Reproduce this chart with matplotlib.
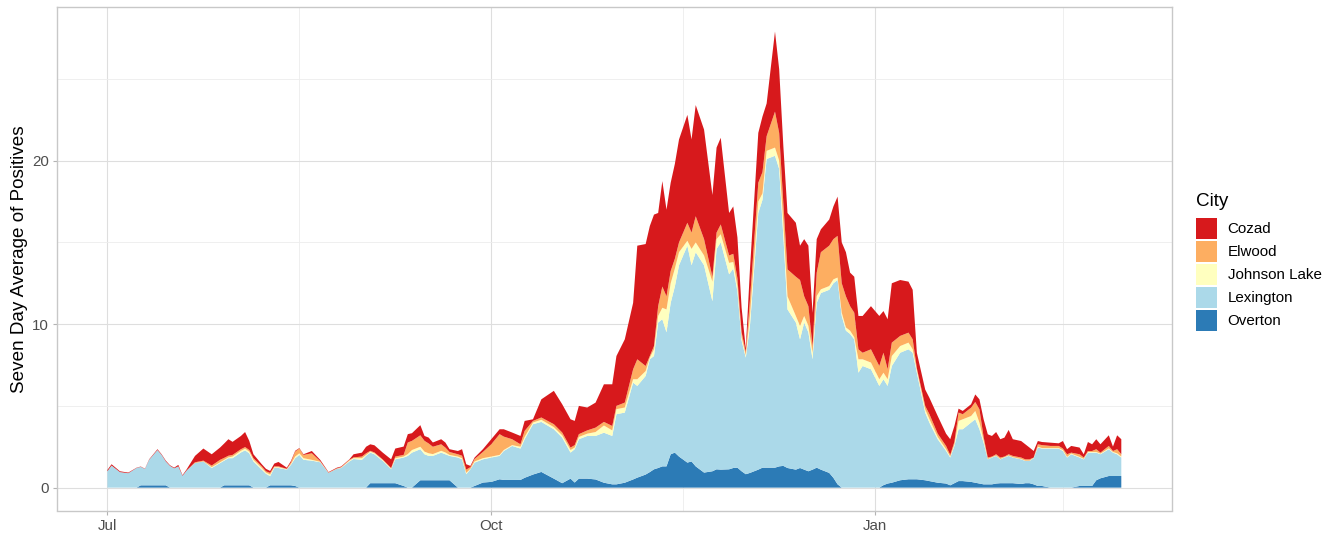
import numpy as np
import pandas as pd
import matplotlib
matplotlib.use("Agg")
import matplotlib.pyplot as plt
import matplotlib.dates as mdates
from matplotlib.patches import Patch

plt.rcParams['font.family'] = ['Liberation Sans', 'DejaVu Sans']

start_date = "2020-07-01"
# day offsets from start_date
day_offsets = [0, 1, 3, 5, 7, 8, 9, 10, 12, 13, 14, 15, 16, 17, 18, 19, 21, 23, 25, 27,
               28, 29, 30, 32, 33, 34, 35, 37, 38, 39, 40, 41, 43, 44, 45, 46, 47, 49, 51, 53,
               55, 56, 58, 59, 61, 62, 63, 64, 66, 68, 69, 71, 72, 73, 75, 76, 77, 78, 80, 81,
               82, 84, 85, 86, 87, 88, 90, 92, 94, 95, 97, 99, 100, 102, 104, 107, 109, 111, 112, 113,
               115, 117, 119, 121, 122, 124, 126, 127, 129, 130, 131, 132, 133, 134, 135, 136, 137, 139, 140, 141,
               143, 145, 146, 147, 149, 150, 151, 152, 153, 154, 156, 157, 158, 160, 161, 162, 163, 165, 166, 167,
               168, 169, 170, 171, 173, 174, 175, 176, 177, 178, 179, 180, 181, 183, 185, 186, 187, 188, 190, 192,
               193, 194, 196, 197, 199, 201, 202, 203, 204, 205, 207, 208, 209, 210, 211, 212, 213, 214, 215, 216,
               217, 219, 220, 221, 222, 223, 224, 226, 228, 229, 230, 231, 233, 234, 235, 236, 237, 238, 240, 241,
               242, 243]

overton = [0, 0, 0, 0, 0, .14, .14, .14, .14, .14, .14, 0, 0, 0, 0, 0, 0, 0, 0, 0,
           .14, .14, .14, .14, .14, .14, 0, 0, 0, .14, .14, .14, .14, .14, .1, 0, 0, 0, 0, 0,
           0, 0, 0, 0, 0, 0, .27, .27, .27, .27, .27, .1, 0, 0, .45, .45, .45, .45, .45, .45,
           .45, 0, 0, 0, 0, .1, .31, .35, .51, .47, .47, .47, .6, .8, .96, .55, .27, .55, .31, .55,
           .55, .5, .3, .2, .2, .3, .5, .61, .8, .95, 1.12, 1.2, 1.3, 1.3, 2.04, 2.14, 1.9, 1.53, 1.6, 1.3,
           .92, 1.0, 1.12, 1.1, 1.12, 1.2, 1.22, 1.0, .82, .9, 1.1, 1.22, 1.22, 1.22, 1.3, 1.33, 1.2, 1.1, 1.2, 1.1,
           1.0, 1.1, 1.22, 1.1, .9, .6, .2, 0, 0, 0, 0, 0, 0, 0, 0, .15, .25, .3, .45, .51,
           .51, .51, .45, .4, .3, .25, .14, .27, .4, .4, .35, .3, .25, .2, .2, .2, .25, .27, .27, .27,
           .27, .22, .27, .27, .2, .1, .1, 0, 0, 0, 0, 0, .1, .1, .1, .1, .45, .57, .71, .71,
           .71, .71]

lexington = [1.0, 1.35, .95, .88, 1.2, 1.13, 1.0, 1.56, 2.16, 1.86, 1.46, 1.33, 1.18, 1.3, .72, 1.05, 1.5, 1.6, 1.2, 1.5,
             1.51, 1.66, 1.66, 2.01, 2.14, 1.96, 1.6, 1.1, .85, .56, 1.06, 1.06, .96, 1.26, 1.7, 2.0, 1.7, 1.65, 1.55, .9,
             1.15, 1.2, 1.6, 1.75, 1.7, 1.95, 1.87, 1.77, 1.36, .85, 1.46, 1.74, 1.94, 2.14, 1.9, 1.59, 1.49, 1.49, 1.69, 1.59,
             1.49, 1.84, 1.73, .82, 1.12, 1.43, 1.42, 1.49, 1.43, 1.77, 2.08, 1.92, 2.36, 3.08, 3.06, 3.02, 2.79, 1.59, 2.04, 2.41,
             2.61, 2.66, 3.06, 2.96, 4.29, 4.29, 5.92, 5.61, 6.03, 6.9, 6.93, 8.9, 9.0, 8.2, 9.26, 10.16, 11.7, 13.27, 12.0, 13.1,
             12.68, 10.4, 13.48, 13.9, 11.93, 12.2, 10.78, 8.0, 7.13, 9.0, 15.7, 16.38, 18.88, 19.08, 18.2, 14.07, 9.7, 9.0, 7.87, 9.0,
             8.5, 6.75, 10.08, 10.8, 11.2, 11.9, 12.5, 10.5, 9.6, 9.4, 9.07, 7.03, 7.44, 7.24, 6.22, 6.48, 5.97, 7.14, 7.8, 7.95,
             7.74, 6.52, 4.14, 3.58, 2.66, 2.0, 1.7, 2.28, 3.17, 3.17, 3.63, 3.88, 3.32, 2.55, 1.53, 1.64, 1.69, 1.46, 1.57, 1.67,
             1.57, 1.51, 1.36, 1.36, 1.6, 2.35, 2.29, 2.39, 2.39, 2.24, 1.84, 2.04, 1.74, 1.63, 2.04, 2.04, 1.69, 1.47, 1.64, 1.43,
             1.33, 1.13]

johnson_lake = [0, 0, 0, 0, 0, 0, 0, 0, 0, 0, 0, 0, 0, 0, 0, 0, 0, 0, .05, .05,
                .05, .05, .1, .1, .1, .1, .1, .1, .07, .1, .05, .05, .02, .05, .1, .1, .1, .05, .03, 0,
                0, .02, .05, .05, .1, .05, .06, .06, .05, .03, .07, .06, .11, .16, .15, .16, .16, .11, .11, .11,
                .06, .06, .07, .08, .03, .07, .07, .06, .06, .06, .05, .11, .14, .1, .13, .13, .14, .16, .1, .14,
                .14, .24, .44, .34, .31, .31, .21, .41, .3, .1, .41, .4, .7, 1.4, 1.2, 1.1, .8, .3, 1.0, .6,
                .6, 1.2, .6, .5, .7, .4, .3, .2, .15, .6, .7, .4, .5, .5, .5, .8, .8, .4, .82, .4,
                .4, .4, .42, .23, .23, .24, .15, .2, .2, .2, .13, .82, .41, .41, .41, .4, .41, .61, .41, .41,
                .21, .17, .2, .22, .14, .1, .06, .1, .51, .61, .4, .51, .41, .15, .02, .02, .02, .02, .02, .02,
                .02, .02, .02, .02, .02, .05, .03, .03, .03, .06, .04, .04, .04, .03, .04, .04, .04, .04, .05, .04,
                .06, .06]

elwood = [0, 0, 0, 0, 0, 0, 0, 0, 0, 0, 0, 0, 0, 0, 0, 0, .05, .05, .1, .15,
          .12, .1, .1, .1, .1, .1, .1, .1, .08, .1, .05, .05, .03, .1, .3, .29, .2, .4, .04, .02,
          .03, .03, .05, .05, .1, .1, .05, .05, .04, .05, .1, .1, .71, .56, .7, .66, .6, .45, .4, .3,
          .18, .14, .15, .2, .1, .15, .38, .75, 1.27, .82, .36, .15, .37, .1, .14, .18, .17, .15, .15, .17,
          .2, .27, .22, .27, .2, .3, .61, 1.22, .31, .1, .2, .6, 1.3, .8, .75, .6, .6, 1.1, 1.0, 1.6,
          1.0, .3, .4, .6, .45, .5, .5, .3, .2, 1.0, 1.15, 1.3, .9, 2.2, 1.7, 1.2, 1.65, 2.4, 2.81, 1.2,
          1.2, .4, 1.43, 2.27, 2.47, 2.46, 2.55, 1.8, 1.9, 1.5, 1.5, .61, .4, .81, .81, 1.22, .61, .82, .62, .61,
          .61, .1, .21, .3, .2, .2, .1, .15, .51, .31, .51, .55, .81, .2, .09, .04, .08, .09, .04, .08,
          .08, .09, .08, .08, .02, .15, .18, .13, .13, .09, .16, .06, .16, .08, .06, .06, .17, .06, .15, .06,
          .25, .14]

cozad = [.08, .08, .05, .04, .02, .02, .02, .03, .05, .04, .05, .04, .04, .09, .04, .07, .39, .74, .69, .75,
         .88, 1.01, .8, .81, .92, .56, .24, .13, .15, .12, .17, .27, .07, .08, .05, .03, .04, .14, .08, .03,
         .04, .04, .03, .19, .24, .4, .4, .44, .42, .53, .49, .51, .51, .47, .62, .3, .36, .26, .31, .31,
         .17, .2, .4, .33, .08, .09, .17, .31, .3, .45, .41, .51, .61, .1, 1.11, 2.04, 1.73, 1.73, 1.48, 1.73,
         1.4, 1.53, 2.3, 2.55, 3.05, 3.87, 4.06, 6.95, 7.46, 7.95, 8.04, 5.7, 6.45, 5.3, 5.4, 5.8, 6.3, 6.6, 5.7, 6.8,
         6.7, 5.0, 5.2, 5.3, 2.6, 2.9, 2.5, 1.5, .2, 1.85, 3.05, 3.4, 2.0, 4.9, 3.9, 3.5, 3.45, 3.3, 2.1, 3.5,
         3.7, 2.04, 2.05, 1.4, 1.6, 2.0, 2.4, 2.5, 2.7, 2.05, 2.2, 2.04, 2.25, 2.64, 3.06, 2.55, 3.06, 3.63, 3.42, 3.12,
         3.03, .95, 1.0, 1.0, 1.08, .75, .96, .97, .24, .2, .21, .46, .61, 1.08, 1.42, 1.26, 1.36, 1.12, 1.16, 1.49,
         1.02, 1.01, .92, .72, .4, .2, .19, .2, .16, .46, .31, .41, .41, .2, .55, .41, .61, .51, .65, .27,
         .85, .92]

cities = ["Overton", "Lexington", "Johnson Lake", "Elwood", "Cozad"]
colors = {"Cozad": "#D7191C", "Elwood": "#FDAE61", "Johnson Lake": "#FFFFBF",
          "Lexington": "#ABD9E9", "Overton": "#2C7BB6"}
legend_order = ["Cozad", "Elwood", "Johnson Lake", "Lexington", "Overton"]
x_tick_dates = ["2020-07-01", "2020-10-01", "2021-01-01"]
x_tick_labels = ["Jul", "Oct", "Jan"]
y_ticks = [0, 10, 20]

dates = pd.Timestamp(start_date) + pd.to_timedelta(day_offsets, unit="D")
series = {"Overton": overton, "Lexington": lexington, "Johnson Lake": johnson_lake,
          "Elwood": elwood, "Cozad": cozad}

fig = plt.figure(figsize=(13.41, 5.34), dpi=100)
W, H = 1341, 534
ax = fig.add_axes([56.7 / W, 1 - 510.5 / H, (1172 - 56.7) / W, (510.5 - 7) / H])

ax.stackplot(dates, [series[c] for c in cities], colors=[colors[c] for c in cities],
             linewidth=0, zorder=3)

# limits (ggplot-like 5% expansion)
d0 = mdates.date2num(dates[0])
d1 = mdates.date2num(dates[-1])
span = d1 - d0
ax.set_xlim(d0 - 0.05 * span, d1 + 0.05 * span)
ymax = 28.0
ax.set_ylim(-0.05 * ymax, 1.05 * ymax)

major = mdates.date2num(pd.to_datetime(x_tick_dates))
ax.set_xticks(major)
ax.set_xticklabels(x_tick_labels)
apr = mdates.date2num(pd.Timestamp("2021-04-01"))
minor_x = [(major[0] + major[1]) / 2, (major[1] + major[2]) / 2, (major[2] + apr) / 2]
ax.set_xticks(minor_x, minor=True)
ax.set_yticks(y_ticks)
ax.set_yticks([5, 15, 25], minor=True)

ax.grid(which="major", color="#DEDEDE", linewidth=0.8, zorder=0)
ax.grid(which="minor", color="#EDEDED", linewidth=0.6, zorder=0)
ax.set_axisbelow(True)
for s in ax.spines.values():
    s.set_color("#C8C8C8")
    s.set_linewidth(1.0)
ax.tick_params(which="major", length=2.9, color="#B3B3B3", width=0.8,
               labelsize=10.9, labelcolor="#4D4D4D")
ax.tick_params(axis="y", which="major", pad=2.9)
ax.tick_params(axis="x", which="major", pad=3.2)
ax.tick_params(which="minor", length=0)

ax.set_ylabel("Seven Day Average of Positives", fontsize=13.6, color="black", labelpad=2.5)

handles = [Patch(facecolor=colors[c], edgecolor="none", label=c) for c in legend_order]
leg = fig.legend(handles=handles, loc="upper left", bbox_to_anchor=(1188 / W, 1 - 185 / H),
                 frameon=False, title="City", fontsize=10.9, title_fontsize=13.6,
                 handlelength=1.4, handleheight=1.77, labelspacing=0.12, handletextpad=0.72,
                 borderpad=0, alignment="left")
leg._legend_box.sep = 6

fig.savefig("out.png", dpi=100)
